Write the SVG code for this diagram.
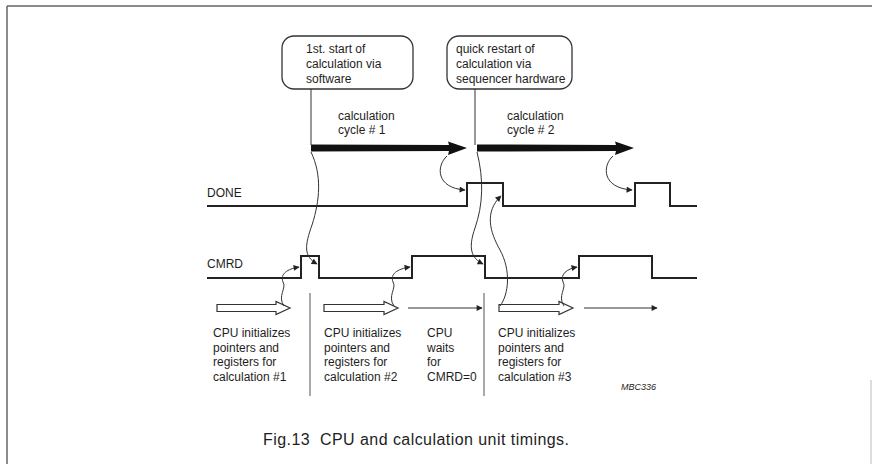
<svg xmlns="http://www.w3.org/2000/svg" width="872" height="464" viewBox="0 0 872 464">
<defs>
<style>
text{font-family:"Liberation Sans",Arial,sans-serif;font-size:12px;fill:#1e1e1e}
text.code{font-size:9px;font-style:italic}
text.cap{font-size:16px}
.box{fill:#fff;stroke:#333;stroke-width:1.3}
.wave{fill:none;stroke:#222;stroke-width:2}
.thin{fill:none;stroke:#333;stroke-width:1}
.sep{stroke:#555;stroke-width:1}
.hollow{fill:#fff;stroke:#333;stroke-width:1.2;stroke-linejoin:miter}
.thick{fill:#111;stroke:none}
</style>
<marker id="ah" viewBox="0 0 10 10" refX="9" refY="5" markerWidth="8" markerHeight="6" markerUnits="userSpaceOnUse" orient="auto">
<path d="M0,0 L10,5 L0,10 z" fill="#222"/>
</marker>
</defs>
<rect width="872" height="464" fill="#fff"/>
<g id="frame" stroke="#666" stroke-width="1.5" fill="none">
<line x1="7" y1="6" x2="872" y2="6"/>
<line x1="7" y1="6" x2="7" y2="464"/>
<line x1="871" y1="380" x2="871" y2="464" stroke="#bbb" stroke-width="1"/>
</g>
<g id="box1">
<rect class="box" x="282" y="36" width="131" height="53" rx="12"/>
<text x="306" y="53">1st. start of</text>
<text x="306" y="68">calculation via</text>
<text x="306" y="83">software</text>
</g>
<g id="box2">
<rect class="box" x="447" y="36" width="125" height="53" rx="12"/>
<text x="456" y="53">quick restart of</text>
<text x="456" y="68">calculation via</text>
<text x="456" y="83">sequencer hardware</text>
</g>
<g id="cycle1">
<text x="338" y="120">calculation</text>
<text x="338" y="134">cycle # 1</text>
<polygon class="thick" points="311,144.5 449,145 448,141.5 467,148 448,155 449,151 311,151.5"/>
</g>
<g id="cycle2">
<text x="507" y="120">calculation</text>
<text x="507" y="134">cycle # 2</text>
<polygon class="thick" points="477,144.5 616,145 615,141.5 634,148 615,155 616,151 477,151.5"/>
</g>
<g id="done">
<text x="207" y="197">DONE</text>
<polyline class="wave" points="207,206 467,206 467,183 503,183 503,206 635,206 635,183 670,183 670,206 697,206"/>
</g>
<g id="cmrd">
<text x="207" y="268">CMRD</text>
<polyline class="wave" points="207,278 301,278 301,256 319,256 319,278 412,278 412,256 485,256 485,278 579,278 579,256 652,256 652,278 697,278"/>
</g>
<g id="separators">
<line class="sep" x1="310" y1="293" x2="310" y2="396"/>
<line class="sep" x1="484" y1="293" x2="484" y2="396"/>
</g>
<g id="cpu-arrows">
<polygon class="hollow" points="217,304.5 276,304.5 276,301.5 290,308 276,314.5 276,311.5 217,311.5"/>
<polygon class="hollow" points="324,304.5 384,304.5 384,301.5 398,308 384,314.5 384,311.5 324,311.5"/>
<line class="thin" x1="408" y1="308" x2="482" y2="308" marker-end="url(#ah)"/>
<polygon class="hollow" points="499,304.5 559,304.5 559,301.5 573,308 559,314.5 559,311.5 499,311.5"/>
<line class="thin" x1="584" y1="308" x2="657" y2="308" marker-end="url(#ah)"/>
</g>
<g id="text1">
<text x="213" y="337">CPU initializes</text>
<text x="213" y="352">pointers and</text>
<text x="213" y="366">registers for</text>
<text x="213" y="381">calculation #1</text>
</g>
<g id="text2">
<text x="324" y="337">CPU initializes</text>
<text x="324" y="352">pointers and</text>
<text x="324" y="366">registers for</text>
<text x="324" y="381">calculation #2</text>
</g>
<g id="text3">
<text x="427" y="337">CPU</text>
<text x="427" y="352">waits</text>
<text x="427" y="366">for</text>
<text x="427" y="381">CMRD=0</text>
</g>
<g id="text4">
<text x="498" y="337">CPU initializes</text>
<text x="498" y="352">pointers and</text>
<text x="498" y="366">registers for</text>
<text x="498" y="381">calculation #3</text>
</g>
<g id="code">
<text class="code" x="621" y="390">MBC336</text>
</g>
<g id="caption">
<text class="cap" x="263" y="445" xml:space="preserve" textLength="306" lengthAdjust="spacing">Fig.13  CPU and calculation unit timings.</text>
</g>
<g id="connectors">
<line class="thin" x1="311" y1="89" x2="311" y2="145"/>
<line class="thin" x1="475" y1="89" x2="475" y2="145"/>
<path class="thin" d="M311,152 C322,175 320,200 312,225 C305,245 303,256 317,264" marker-end="url(#ah)"/>
<path class="thin" d="M447,156 C436,166 436,188 465,190" marker-end="url(#ah)"/>
<path class="thin" d="M613,156 C602,166 602,188 632,190" marker-end="url(#ah)"/>
<path class="thin" d="M477,152 C484,180 483,205 475,228 C468,248 471,258 483,264" marker-end="url(#ah)"/>
<path class="thin" d="M500,306 C509,294 511,270 500,250 C490,232 484,212 501,196" marker-end="url(#ah)"/>
<path class="thin" d="M284,306 C277,296 287,288 283,282 C280,274 287,269 299,267" marker-end="url(#ah)"/>
<path class="thin" d="M394,306 C387,296 397,288 393,282 C390,274 397,269 410,267" marker-end="url(#ah)"/>
<path class="thin" d="M564,306 C557,296 567,288 563,282 C560,274 567,269 577,267" marker-end="url(#ah)"/>
</g>
</svg>
